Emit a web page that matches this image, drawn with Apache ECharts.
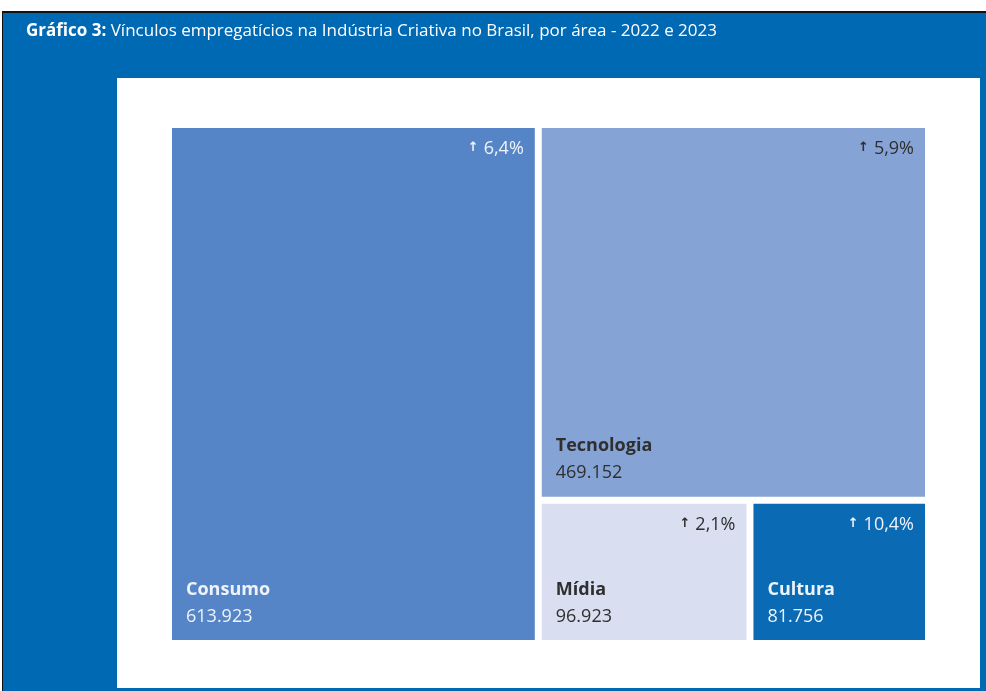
<!DOCTYPE html>
<html>
<head>
<meta charset="utf-8">
<script src="https://cdn.jsdelivr.net/npm/echarts@6/dist/echarts.min.js"></script>
<style>
html,body{margin:0;padding:0;background:#fff;}
#chart{width:986px;height:691px;}
</style>
</head>
<body>
<div id="chart"></div>
<script>
const titleBold = 'Gráfico 3:';
const titleRest = ' Vínculos empregatícios na Indústria Criativa no Brasil, por área - 2022 e 2023';
const areas = ['Consumo', 'Tecnologia', 'Mídia', 'Cultura'];
const vinculos2023 = [613923, 469152, 96923, 81756];
const crescimento = ['6,4%', '5,9%', '2,1%', '10,4%'];
const valueLabels = ['613.923', '469.152', '96.923', '81.756'];
const areaColors = ['#5585C6', '#85A3D5', '#D9DFF1', '#0A6AB4'];
const textColors = ['#EEF3FA', '#2F2F2F', '#2F2F2F', '#EEF3FA'];

const FONT = 'Open Sans';

const mainData = areas.map((n, i) => ({
  name: n,
  value: vinculos2023[i],
  itemStyle: { color: areaColors[i] },
  label: {
    color: textColors[i],
    rich: {
      n: { fontFamily: FONT, fontSize: 18, fontWeight: 'bold', color: textColors[i], lineHeight: 27 },
      v: { fontFamily: FONT, fontSize: 18, fontWeight: 'normal', color: textColors[i], lineHeight: 27 }
    }
  }
}));

const pctData = areas.map((n, i) => ({
  name: n,
  value: vinculos2023[i],
  itemStyle: { color: 'rgba(0,0,0,0)', borderColor: 'rgba(0,0,0,0)' },
  label: {
    rich: {
      a: { fontFamily: 'DejaVu Sans', fontSize: 13, fontWeight: 'bold', color: textColors[i], lineHeight: 20, padding: [0, 5, 2, 0] },
      p: { fontFamily: FONT, fontSize: 18, fontWeight: 'normal', color: textColors[i], lineHeight: 20 }
    }
  }
}));

const chart = echarts.init(document.getElementById('chart'), null, { renderer: 'canvas' });

const seriesBase = {
  type: 'treemap',
  left: 172, top: 128, width: 753, height: 512,
  roam: false,
  nodeClick: false,
  breadcrumb: { show: false },
  squareRatio: 1,
  sort: 'desc',
  animation: false,
  emphasis: { disabled: true }
};

chart.setOption({
  backgroundColor: '#ffffff',
  animation: false,
  graphic: [
    { type: 'rect', z: -10, shape: { x: 2, y: 11, width: 984, height: 680 }, style: { fill: '#111111' }, silent: true },
    { type: 'rect', z: -9, shape: { x: 3, y: 13, width: 983, height: 678 }, style: { fill: '#0069B4' }, silent: true },
    { type: 'rect', z: -8, shape: { x: 117, y: 78, width: 863, height: 610 }, style: { fill: '#FFFFFF' }, silent: true }
  ],
  title: {
    left: 26, top: 21,
    padding: 0,
    text: '{b|' + titleBold + '}{r|' + titleRest + '}',
    textStyle: {
      fontWeight: 'normal',
      rich: {
        b: { fontFamily: FONT, fontSize: 17, fontWeight: 'bold', color: '#ffffff', lineHeight: 20 },
        r: { fontFamily: FONT, fontSize: 17, fontWeight: 'normal', color: '#ffffff', lineHeight: 20 }
      }
    }
  },
  series: [
    Object.assign({}, seriesBase, {
      name: 'vinculos',
      z: 2,
      itemStyle: { gapWidth: 7, borderWidth: 0, borderColor: '#ffffff' },
      label: {
        show: true,
        position: 'insideTopLeft',
        padding: 0,
        formatter: p => '{n|' + p.name + '}\n{v|' + valueLabels[areas.indexOf(p.name)] + '}'
      },
      labelLayout: function (params) {
        return {
          x: params.rect.x + 14,
          y: params.rect.y + params.rect.height - 64,
          align: 'left',
          verticalAlign: 'top'
        };
      },
      data: mainData
    }),
    Object.assign({}, seriesBase, {
      name: 'crescimento',
      z: 3,
      silent: true,
      itemStyle: { gapWidth: 7, borderWidth: 0, borderColor: 'rgba(0,0,0,0)', color: 'rgba(0,0,0,0)' },
      label: {
        show: true,
        position: 'insideTopRight',
        distance: 11,
        padding: 0,
        formatter: p => '{a|↑}{p|' + crescimento[areas.indexOf(p.name)] + '}'
      },
      data: pctData
    })
  ]
});
</script>
</body>
</html>
